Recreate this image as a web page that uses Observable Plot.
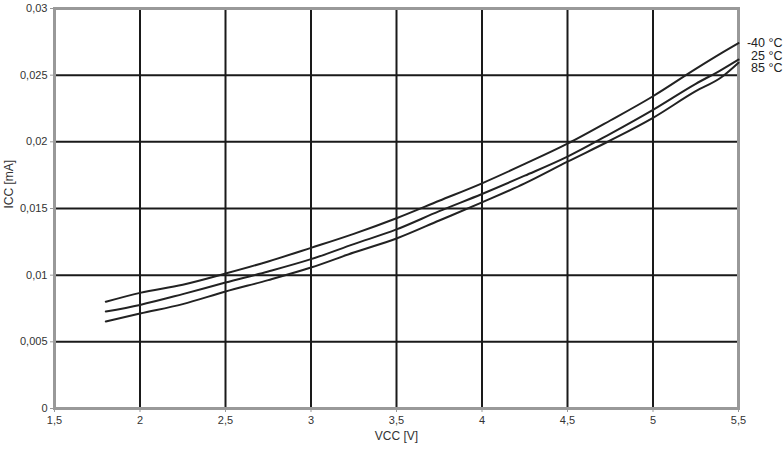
<!DOCTYPE html>
<html>
<head>
<meta charset="utf-8">
<script src="https://cdn.jsdelivr.net/npm/d3@7"></script>
<script src="https://cdn.jsdelivr.net/npm/@observablehq/plot@0.6"></script>
<style>
  html, body { margin: 0; padding: 0; background: #fff; }
</style>
</head>
<body>
<div id="chart"></div>
<script>
const vcc = [1.8, 2, 2.25, 2.5, 2.75, 3, 3.25, 3.5, 3.75, 4, 4.25, 4.5, 4.75, 5, 5.25, 5.4, 5.5];
const iccM40 = [0.0080, 0.00867, 0.00928, 0.01012, 0.01103, 0.01205, 0.0131, 0.01427, 0.01558, 0.01689, 0.01834, 0.01986, 0.0216, 0.02342, 0.02547, 0.02665, 0.0274];
const icc25  = [0.00727, 0.00777, 0.00858, 0.00945, 0.01028, 0.0112, 0.01233, 0.01343, 0.0148, 0.01609, 0.01746, 0.01889, 0.0206, 0.0224, 0.02435, 0.0254, 0.02617];
const icc85  = [0.00652, 0.00712, 0.00783, 0.00877, 0.00963, 0.01057, 0.0117, 0.01275, 0.0141, 0.01546, 0.01688, 0.01851, 0.0201, 0.0218, 0.0238, 0.02484, 0.02593];
const seriesNames = ["-40 °C", "25 °C", "85 °C"];
const labelBlockY = 0.02647;
const xTicks = [1.5, 2, 2.5, 3, 3.5, 4, 4.5, 5, 5.5];
const yTicks = [0, 0.005, 0.01, 0.015, 0.02, 0.025, 0.03];
const xLabel = "VCC [V]";
const yLabel = "ICC [mA]";

const allSeries = [iccM40, icc25, icc85];
const rows = [];
allSeries.forEach((vals, si) => vals.forEach((v, i) => rows.push({series: seriesNames[si], x: vcc[i], y: v})));
const comma = d => String(d).replace(".", ",");

const chart = Plot.plot({
  width: 784,
  height: 450,
  marginLeft: 54,
  marginRight: 46,
  marginTop: 8,
  marginBottom: 42,
  style: {fontFamily: "'Liberation Sans', Arial, sans-serif", fontSize: "11px", background: "#fff"},
  x: {domain: [1.5, 5.5]},
  y: {domain: [0, 0.03]},
  marks: [
    Plot.ruleX(xTicks.slice(1, -1), {stroke: "#1a1a1a", strokeWidth: 2}),
    Plot.ruleY(yTicks.slice(1, -1), {stroke: "#1a1a1a", strokeWidth: 2}),
    Plot.frame({stroke: "#999", strokeWidth: 3}),
    Plot.axisX({ticks: xTicks, tickFormat: comma, stroke: "#999", fill: "#333", tickSize: 4, tickPadding: 4, label: null}),
    Plot.axisY({ticks: yTicks, tickFormat: comma, stroke: "#999", fill: "#333", tickSize: 4, tickPadding: 3, label: null}),
    Plot.line(rows, {x: "x", y: "y", z: "series", stroke: "#222", strokeWidth: 2, curve: "monotone-x"}),
    Plot.text([seriesNames.join("\n")], {x: () => 5.5, y: () => labelBlockY, textAnchor: "end", dx: 44, fill: "#222", fontSize: 12.5, lineHeight: 1.0}),
    Plot.text([yLabel], {frameAnchor: "left", rotate: -90, dx: -45, fill: "#333", fontSize: 12}),
    Plot.text([xLabel], {frameAnchor: "bottom", dy: 31, fill: "#333", fontSize: 12})
  ]
});
document.getElementById("chart").appendChild(chart);
</script>
</body>
</html>
